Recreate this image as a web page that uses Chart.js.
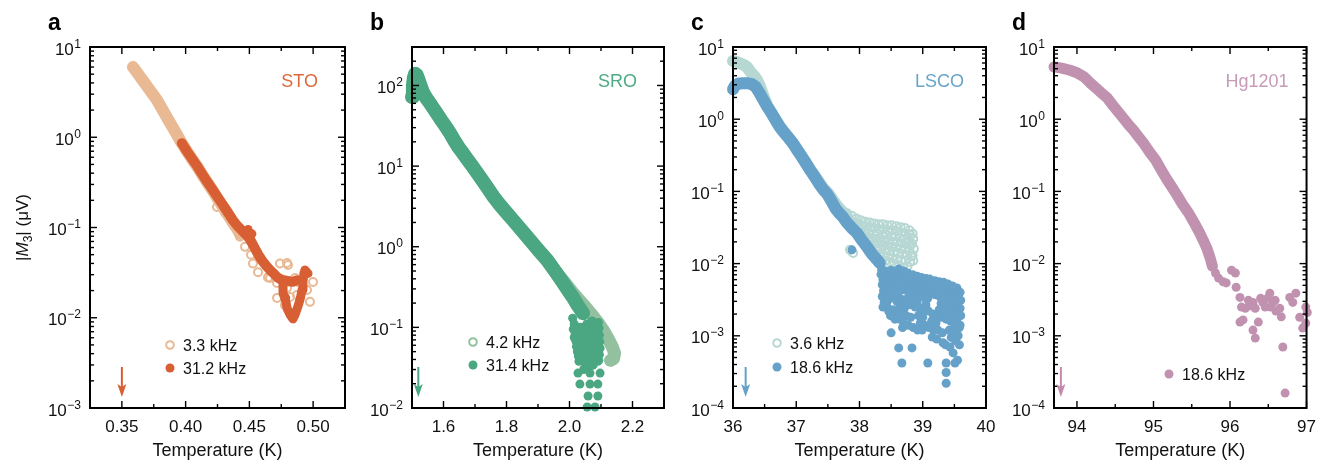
<!DOCTYPE html>
<html>
<head>
<meta charset="utf-8">
<script src="https://cdn.jsdelivr.net/npm/chart.js@4.4.0/dist/chart.umd.min.js"></script>
<style>
  body { margin: 0; background: #fff; width: 1325px; height: 462px; overflow: hidden; position: relative; }
  canvas { position: absolute; left: 0; top: 0; }
</style>
</head>
<body>
<canvas id="panelA" width="1325" height="462"></canvas>
<canvas id="panelB" width="1325" height="462"></canvas>
<canvas id="panelC" width="1325" height="462"></canvas>
<canvas id="panelD" width="1325" height="462"></canvas>
<script>
// ---- data: [temperature K, |M3| uV] ----

// a: STO
const stoTempTicks = [0.35, 0.40, 0.45, 0.50];
const stoMinorTicks = [0.375, 0.425, 0.475];
const stoLegend = ['3.3 kHz', '31.2 kHz'];
const stoLowBand = [[0.3587, 6.0], [0.362, 5.2], [0.366, 4.33], [0.370, 3.62], [0.374, 3.03], [0.3775, 2.59], [0.381, 2.12],
  [0.385, 1.69], [0.389, 1.35], [0.393, 1.08], [0.397, 0.86], [0.401, 0.70], [0.405, 0.575], [0.409, 0.475], [0.413, 0.385],
  [0.417, 0.315], [0.421, 0.26], [0.425, 0.21], [0.429, 0.172], [0.433, 0.14], [0.437, 0.114], [0.441, 0.094], [0.4426, 0.085]];
const stoLowDots = [[0.4246, 0.169], [0.431, 0.145], [0.4426, 0.079], [0.4466, 0.061], [0.4513, 0.050], [0.4528, 0.040],
  [0.4568, 0.032], [0.4646, 0.028], [0.4662, 0.0276], [0.4717, 0.0243], [0.4717, 0.0166], [0.4740, 0.040], [0.4764, 0.0263],
  [0.4779, 0.0138], [0.4795, 0.0404], [0.4795, 0.0214], [0.4803, 0.0384], [0.4819, 0.0170], [0.4858, 0.0276], [0.4874, 0.0179],
  [0.4897, 0.0243], [0.4952, 0.0203], [0.4975, 0.0150], [0.4999, 0.0249]];
const stoHighBand = [[0.397, 0.86], [0.401, 0.70], [0.405, 0.58], [0.409, 0.48], [0.413, 0.39], [0.417, 0.32], [0.421, 0.265],
  [0.425, 0.218], [0.429, 0.18], [0.433, 0.148], [0.437, 0.121], [0.441, 0.103], [0.445, 0.090], [0.448, 0.082], [0.451, 0.072],
  [0.454, 0.060], [0.457, 0.050], [0.460, 0.043], [0.463, 0.038], [0.466, 0.034], [0.469, 0.031], [0.472, 0.028], [0.476, 0.026],
  [0.480, 0.0255], [0.484, 0.025], [0.4875, 0.026]];
const stoHighTail = [[0.4764, 0.025], [0.4764, 0.0188], [0.4787, 0.0150], [0.4795, 0.0128], [0.4819, 0.0108], [0.4842, 0.0097],
  [0.4860, 0.0110], [0.4882, 0.0135], [0.4900, 0.0165], [0.4913, 0.0203], [0.4920, 0.025], [0.4928, 0.031], [0.4936, 0.0338],
  [0.4960, 0.031]];
const stoHighDots = [[0.449, 0.095], [0.452, 0.085], [0.4785, 0.0166]];

// b: SRO
const sroTempTicks = [1.6, 1.8, 2.0, 2.2];
const sroMinorTicks = [1.7, 1.9, 2.1];
const sroLegend = ['4.2 kHz', '31.4 kHz'];
const sroLowBand = [[1.5, 75], [1.51, 135], [1.535, 82], [1.579, 45], [1.621, 25.5], [1.662, 14.4], [1.694, 9.7], [1.738, 5.5],
  [1.779, 3.3], [1.821, 2.13], [1.875, 1.2], [1.929, 0.7], [1.96, 0.47], [1.99, 0.34], [2.01, 0.27], [2.03, 0.22], [2.05, 0.18],
  [2.07, 0.145], [2.09, 0.115], [2.105, 0.095], [2.118, 0.078], [2.128, 0.066], [2.137, 0.056], [2.143, 0.048], [2.14, 0.041],
  [2.13, 0.039]];
const sroHighBand = [[1.500, 72], [1.503, 100], [1.506, 125], [1.510, 140], [1.515, 135], [1.520, 120], [1.527, 100], [1.535, 82],
  [1.545, 70], [1.557, 60], [1.568, 52], [1.579, 45], [1.593, 37], [1.607, 31], [1.621, 25.5], [1.635, 20.5], [1.648, 17],
  [1.662, 14.4], [1.678, 11.8], [1.694, 9.7], [1.716, 7.3], [1.738, 5.5], [1.758, 4.2], [1.779, 3.3], [1.800, 2.65], [1.821, 2.13],
  [1.848, 1.6], [1.875, 1.2], [1.902, 0.9], [1.929, 0.68], [1.954, 0.50], [1.979, 0.36], [1.995, 0.29], [2.011, 0.235],
  [2.027, 0.185], [2.043, 0.15]];
const sroHighDots = [[2.010, 0.130], [2.015, 0.110], [2.012, 0.095], [2.018, 0.085], [2.015, 0.075], [2.020, 0.068], [2.022, 0.058],
  [2.025, 0.050], [2.028, 0.044], [2.030, 0.038], [2.035, 0.100], [2.038, 0.090], [2.040, 0.075], [2.042, 0.062], [2.045, 0.052],
  [2.048, 0.045], [2.050, 0.038], [2.052, 0.034], [2.055, 0.110], [2.058, 0.095], [2.060, 0.080], [2.062, 0.068], [2.064, 0.058],
  [2.066, 0.050], [2.068, 0.042], [2.070, 0.036], [2.072, 0.120], [2.075, 0.100], [2.078, 0.085], [2.080, 0.072], [2.082, 0.062],
  [2.085, 0.053], [2.088, 0.045], [2.090, 0.038], [2.092, 0.115], [2.094, 0.098], [2.095, 0.080], [2.096, 0.066], [2.097, 0.055],
  [2.095, 0.046], [2.093, 0.039], [2.075, 0.034], [2.060, 0.032], [2.045, 0.030],
  [2.027, 0.0271], [2.065, 0.0271], [2.097, 0.0271], [2.033, 0.0198], [2.065, 0.0198], [2.090, 0.0198], [2.059, 0.0141],
  [2.090, 0.0141], [2.056, 0.0103], [2.081, 0.0103]];

// c: LSCO
const lscoTempTicks = [36, 37, 38, 39, 40];
const lscoMinorTicks = [36.5, 37.5, 38.5, 39.5];
const lscoLegend = ['3.6 kHz', '18.6 kHz'];
const lscoLowBand = [[36.0, 6.4], [36.06, 6.2], [36.12, 5.9], [36.18, 5.6], [36.22, 5.3], [36.27, 4.6], [36.33, 4.0], [36.38, 3.5],
  [36.43, 2.8], [36.48, 2.1], [36.54, 1.55], [36.6, 1.25], [36.67, 1.0], [36.74, 0.8], [36.81, 0.66], [36.88, 0.55], [36.95, 0.46],
  [37.02, 0.37], [37.09, 0.3], [37.16, 0.245], [37.22, 0.2], [37.29, 0.165], [37.36, 0.135], [37.43, 0.11], [37.5, 0.095],
  [37.58, 0.076], [37.65, 0.062], [37.72, 0.053], [37.8, 0.047]];
const lscoLowDots = [[37.80, 0.050], [37.82, 0.043],
  [37.88, 0.046], [37.87, 0.039], [37.89, 0.034],
  [37.95, 0.042], [37.96, 0.036], [37.94, 0.031],
  [38.02, 0.040], [38.03, 0.034], [38.01, 0.029], [38.04, 0.025],
  [38.09, 0.038], [38.10, 0.033], [38.08, 0.028], [38.11, 0.024], [38.09, 0.021],
  [38.16, 0.037], [38.17, 0.032], [38.15, 0.027], [38.18, 0.023], [38.16, 0.020], [38.19, 0.017],
  [38.23, 0.036], [38.24, 0.031], [38.22, 0.026], [38.25, 0.022], [38.23, 0.019], [38.26, 0.016], [38.24, 0.014],
  [38.30, 0.035], [38.31, 0.030], [38.29, 0.026], [38.32, 0.022], [38.30, 0.019], [38.33, 0.016], [38.31, 0.0135], [38.28, 0.0122],
  [38.37, 0.035], [38.38, 0.030], [38.36, 0.025], [38.39, 0.021], [38.37, 0.018], [38.40, 0.0155], [38.38, 0.013], [38.41, 0.011],
  [38.44, 0.034], [38.45, 0.029], [38.43, 0.025], [38.46, 0.021], [38.44, 0.018], [38.47, 0.015], [38.45, 0.0125], [38.48, 0.0105],
  [38.51, 0.034], [38.52, 0.029], [38.50, 0.024], [38.53, 0.020], [38.51, 0.017], [38.54, 0.0145], [38.52, 0.012], [38.55, 0.0100],
  [38.58, 0.033], [38.59, 0.028], [38.57, 0.024], [38.60, 0.020], [38.58, 0.017], [38.61, 0.014], [38.59, 0.0115], [38.62, 0.0095],
  [38.65, 0.032], [38.66, 0.027], [38.64, 0.023], [38.67, 0.019], [38.65, 0.016], [38.68, 0.0135], [38.66, 0.011], [38.69, 0.0088],
  [38.72, 0.031], [38.73, 0.026], [38.71, 0.022], [38.74, 0.019], [38.72, 0.016], [38.75, 0.013], [38.73, 0.011], [38.76, 0.0092],
  [38.79, 0.029], [38.80, 0.025], [38.78, 0.021], [38.81, 0.018], [38.79, 0.015], [38.82, 0.0125], [38.80, 0.0105],
  [38.84, 0.026], [38.85, 0.022], [38.83, 0.019], [38.86, 0.016], [38.84, 0.013], [38.85, 0.011],
  [37.85, 0.0155], [37.90, 0.014]];
const lscoHighBand = [[36.00, 2.6], [36.03, 2.9], [36.08, 3.1], [36.15, 3.15], [36.22, 3.15], [36.30, 3.05], [36.36, 2.8],
  [36.42, 2.3], [36.48, 1.85], [36.54, 1.5], [36.60, 1.25], [36.67, 0.98], [36.74, 0.78], [36.81, 0.65], [36.88, 0.55],
  [36.95, 0.46], [37.02, 0.37], [37.09, 0.30], [37.16, 0.24], [37.22, 0.198], [37.29, 0.16], [37.36, 0.128], [37.43, 0.105],
  [37.49, 0.092], [37.55, 0.075], [37.62, 0.058], [37.68, 0.05], [37.74, 0.044], [37.80, 0.037], [37.88, 0.031], [37.96, 0.0265],
  [38.04, 0.021], [38.12, 0.017], [38.20, 0.0135], [38.26, 0.0118], [38.32, 0.0102]];
const lscoHighDots = [[37.88, 0.0155],
  [38.33, 0.0098], [38.35, 0.0083], [38.34, 0.0071], [38.37, 0.0060], [38.36, 0.0051], [38.38, 0.0042], [38.36, 0.0035], [38.39, 0.0029], [38.37, 0.0025],
  [38.41, 0.0079], [38.43, 0.0066], [38.42, 0.0054], [38.44, 0.0045], [38.41, 0.0038], [38.45, 0.0031], [38.43, 0.0026], [38.46, 0.0022], [38.50, 0.0011],
  [38.48, 0.0072], [38.50, 0.0081], [38.49, 0.0058], [38.51, 0.0049], [38.47, 0.0041], [38.52, 0.0034], [38.53, 0.0023], [38.49, 0.0019],
  [38.55, 0.0076], [38.57, 0.0063], [38.56, 0.0052], [38.58, 0.0044], [38.55, 0.0036], [38.59, 0.0030], [38.60, 0.0021], [38.56, 0.0017], [38.62, 0.00068],
  [38.62, 0.0084], [38.64, 0.0070], [38.63, 0.0057], [38.65, 0.0047], [38.61, 0.0039], [38.66, 0.0032], [38.64, 0.0026], [38.67, 0.0021], [38.63, 0.0017], [38.68, 0.0013], [38.67, 0.00042],
  [38.70, 0.0079], [38.71, 0.0064], [38.69, 0.0052], [38.72, 0.0043], [38.73, 0.0029], [38.71, 0.0024], [38.74, 0.0019], [38.70, 0.0015],
  [38.76, 0.0074], [38.78, 0.0061], [38.77, 0.0050], [38.79, 0.0040], [38.76, 0.0033], [38.80, 0.0027], [38.81, 0.0018], [38.77, 0.0014], [38.83, 0.00068],
  [38.84, 0.0070], [38.86, 0.0057], [38.85, 0.0046], [38.87, 0.0038], [38.84, 0.0031], [38.88, 0.0025], [38.85, 0.0013],
  [38.91, 0.0067], [38.93, 0.0054], [38.92, 0.0044], [38.94, 0.0036], [38.91, 0.0029], [38.95, 0.0024], [38.93, 0.0019], [38.96, 0.0015], [38.92, 0.0012],
  [38.98, 0.0064], [39.00, 0.0052], [38.99, 0.0042], [39.01, 0.0034], [39.02, 0.0023], [39.00, 0.0018], [39.03, 0.0014], [38.99, 0.0012],
  [39.05, 0.0062], [39.07, 0.0050], [39.06, 0.0040], [39.08, 0.0033], [39.05, 0.0027], [39.09, 0.0022], [39.10, 0.0013], [39.08, 0.00042],
  [39.11, 0.0061], [39.14, 0.0048], [39.13, 0.0039], [39.16, 0.0020], [39.14, 0.0016], [39.17, 0.0012], [39.15, 0.00096],
  [39.19, 0.0058], [39.21, 0.0046], [39.20, 0.0037], [39.23, 0.0019], [39.21, 0.0015], [39.24, 0.0012], [39.22, 0.00090],
  [39.26, 0.0056], [39.28, 0.0044], [39.27, 0.0035], [39.29, 0.0028], [39.26, 0.0023], [39.30, 0.0018], [39.31, 0.0011], [39.32, 0.00080],
  [39.33, 0.0055], [39.35, 0.0043], [39.34, 0.0034], [39.36, 0.0027], [39.33, 0.0021], [39.37, 0.0017], [39.36, 0.00075],
  [39.37, 0.00042], [39.37, 0.00031], [39.37, 0.00022],
  [39.40, 0.0052], [39.42, 0.0041], [39.41, 0.0032], [39.43, 0.0025], [39.40, 0.0020], [39.44, 0.0016], [39.42, 0.0012], [39.45, 0.00095], [39.43, 0.00070],
  [39.47, 0.0049], [39.49, 0.0039], [39.48, 0.0030], [39.50, 0.0023], [39.47, 0.0018], [39.51, 0.0014], [39.49, 0.0011], [39.52, 0.00085], [39.48, 0.00058], [39.51, 0.00042],
  [39.54, 0.0046], [39.56, 0.0037], [39.55, 0.0028], [39.57, 0.0022], [39.54, 0.0017], [39.58, 0.0013], [39.56, 0.0010], [39.58, 0.00075], [39.55, 0.00046],
  [39.59, 0.0040], [39.60, 0.0031], [39.59, 0.0024], [39.60, 0.0019], [39.59, 0.0014]];

// d: Hg1201
const hgTempTicks = [94, 95, 96, 97];
const hgMinorTicks = [94.5, 95.5, 96.5];
const hgLegend = ['18.6 kHz'];
const hgBand = [[93.70, 5.3], [93.80, 5.1], [93.90, 4.8], [94.00, 4.4], [94.10, 3.8], [94.17, 3.2], [94.25, 2.7], [94.32, 2.3],
  [94.39, 2.0], [94.46, 1.6], [94.53, 1.3], [94.60, 1.05], [94.67, 0.85], [94.74, 0.70], [94.81, 0.56], [94.88, 0.45],
  [94.95, 0.35], [95.03, 0.27], [95.10, 0.20], [95.17, 0.15], [95.24, 0.115], [95.31, 0.088], [95.38, 0.066], [95.46, 0.050],
  [95.53, 0.037], [95.60, 0.027], [95.65, 0.021], [95.70, 0.016], [95.74, 0.012], [95.77, 0.0092]];
const hgDots = [[95.81, 0.0074], [95.85, 0.0063], [95.91, 0.0056], [95.95, 0.0054], [96.02, 0.0081], [96.07, 0.0074],
  [96.08, 0.0047], [96.13, 0.0034], [96.13, 0.00155], [96.17, 0.00166], [96.15, 0.0025], [96.20, 0.0024], [96.24, 0.0031],
  [96.26, 0.0026], [96.30, 0.0029], [96.30, 0.0012], [96.33, 0.00093], [96.33, 0.0024], [96.37, 0.00155], [96.40, 0.0033],
  [96.43, 0.0029], [96.46, 0.0025], [96.49, 0.0033], [96.52, 0.0039], [96.53, 0.0025], [96.56, 0.0029], [96.59, 0.0031],
  [96.60, 0.0022], [96.65, 0.0024], [96.67, 0.00183], [96.69, 0.0007], [96.72, 0.000161], [96.78, 0.0034], [96.82, 0.0029],
  [96.86, 0.0039], [96.91, 0.0018], [96.95, 0.00128], [96.99, 0.0015], [97.01, 0.0021], [96.99, 0.0025]];

// arrows at the bottom of each panel (temperature)
const arrowTemps = [0.35, 1.52, 36.2, 93.79];

// ---- drawing ----
const W = 1325, H = 462;
const FONT = '"Liberation Sans", Arial, Helvetica, sans-serif';
const INK = '#111';
Chart.defaults.font.family = FONT;

function pts(arr) {
  return arr.map(p => ({ x: p[0], y: p[1] }));
}

function bandSet(data, color, width, order) {
  return {
    data: pts(data), showLine: true, borderColor: color, borderWidth: width, pointRadius: 0,
    borderCapStyle: 'round', borderJoinStyle: 'round', clip: false, order: order
  };
}

function dotSet(data, color, open, order) {
  return {
    data: pts(data), showLine: false, pointRadius: open ? 4 : 4.5, pointBorderWidth: open ? 2 : 0,
    pointBackgroundColor: open ? 'rgba(255,255,255,0)' : color, pointBorderColor: color, clip: false, order: order
  };
}

const panels = [
  {
    canvas: 'panelA', letter: 'a', left: 90, right: 345, xMin: 0.325, xMax: 0.525, digits: 2,
    xMajor: stoTempTicks, xMinor: stoMinorTicks, yMin: 1e-3, yMax: 10, yExp: [-3, -2, -1, 0, 1],
    name: 'STO', nameColor: '#dc693d', nameDx: 27, yTitle: true, arrow: arrowTemps[0], arrowColor: '#d75f33',
    legend: [
      { text: stoLegend[0], color: '#e9b994', open: true, dx: 80, y: 345 },
      { text: stoLegend[1], color: '#d75f33', open: false, dx: 80, y: 368 }
    ],
    datasets: [
      bandSet(stoLowBand, '#e9b994', 12, 4),
      dotSet(stoLowDots, '#e9b994', true, 3),
      bandSet(stoHighBand, '#d75f33', 10, 2),
      bandSet(stoHighTail, '#d75f33', 9, 1),
      dotSet(stoHighDots, '#d75f33', false, 1)
    ]
  },
  {
    canvas: 'panelB', letter: 'b', left: 412, right: 664, xMin: 1.5, xMax: 2.3, digits: 1,
    xMajor: sroTempTicks, xMinor: sroMinorTicks, yMin: 1e-2, yMax: 300, yExp: [-2, -1, 0, 1, 2],
    name: 'SRO', nameColor: '#4fab86', nameDx: 27, yTitle: false, arrow: arrowTemps[1], arrowColor: '#4aa781',
    legend: [
      { text: sroLegend[0], color: '#93c09e', open: true, dx: 61, y: 342 },
      { text: sroLegend[1], color: '#4aa781', open: false, dx: 61, y: 365 }
    ],
    datasets: [
      bandSet(sroLowBand, '#93c09e', 13, 3),
      bandSet(sroHighBand, '#4aa781', 14, 2),
      dotSet(sroHighDots, '#4aa781', false, 1)
    ]
  },
  {
    canvas: 'panelC', letter: 'c', left: 733, right: 986, xMin: 36, xMax: 40, digits: 0,
    xMajor: lscoTempTicks, xMinor: lscoMinorTicks, yMin: 1e-4, yMax: 10, yExp: [-4, -3, -2, -1, 0, 1],
    name: 'LSCO', nameColor: '#68a5cb', nameDx: 22, yTitle: false, arrow: arrowTemps[2], arrowColor: '#65a1c8',
    legend: [
      { text: lscoLegend[0], color: '#b7d7d3', open: true, dx: 44, y: 343 },
      { text: lscoLegend[1], color: '#65a1c8', open: false, dx: 44, y: 367 }
    ],
    datasets: [
      bandSet(lscoLowBand, '#b7d7d3', 12, 4),
      dotSet(lscoLowDots, '#b7d7d3', true, 3),
      bandSet(lscoHighBand, '#65a1c8', 12, 2),
      dotSet(lscoHighDots, '#65a1c8', false, 1)
    ]
  },
  {
    canvas: 'panelD', letter: 'd', left: 1054, right: 1309, xMin: 93.7, xMax: 97, digits: 0,
    xMajor: hgTempTicks, xMinor: hgMinorTicks, yMin: 1e-4, yMax: 10, yExp: [-4, -3, -2, -1, 0, 1],
    name: 'Hg1201', nameColor: '#c79bb8', nameDx: 18, yTitle: false, arrow: arrowTemps[3], arrowColor: '#c58aab',
    legend: [
      { text: hgLegend[0], color: '#c192b0', open: false, dx: 115, y: 374 }
    ],
    datasets: [
      bandSet(hgBand, '#c192b0', 11, 2),
      dotSet(hgDots, '#c192b0', false, 1)
    ]
  }
];

// frame, inward ticks, y labels, legend and annotations
function makeDecor(p) {
  return {
    id: 'decor',
    afterDatasetsDraw(chart) {
      const { ctx, chartArea: a } = chart;
      const xs = chart.scales.x, ys = chart.scales.y;
      ctx.save();
      ctx.strokeStyle = '#000';
      ctx.lineWidth = 1.4;
      const seg = (x1, y1, x2, y2) => { ctx.beginPath(); ctx.moveTo(x1, y1); ctx.lineTo(x2, y2); ctx.stroke(); };
      const xTick = (v, len) => {
        const px = xs.getPixelForValue(v);
        seg(px, a.bottom, px, a.bottom - len);
        seg(px, a.top, px, a.top + len);
      };
      const yTick = (v, len) => {
        const py = ys.getPixelForValue(v);
        seg(a.left, py, a.left + len, py);
        seg(a.right, py, a.right - len, py);
      };
      p.xMajor.forEach(v => xTick(v, 7));
      p.xMinor.forEach(v => xTick(v, 4));
      for (let e = Math.floor(Math.log10(p.yMin)); e <= Math.log10(p.yMax); e++) {
        for (let m = 1; m <= 9; m++) {
          const v = m * Math.pow(10, e);
          if (v < p.yMin * 0.999 || v > p.yMax * 1.001) continue;
          yTick(v, m === 1 ? 7 : 4);
        }
      }
      ctx.lineWidth = 2;
      ctx.strokeRect(a.left, a.top, a.right - a.left, a.bottom - a.top);

      // y tick labels 10^n
      ctx.fillStyle = INK;
      ctx.textAlign = 'right';
      ctx.textBaseline = 'alphabetic';
      p.yExp.forEach(e => {
        const py = ys.getPixelForValue(Math.pow(10, e));
        const exp = e < 0 ? '\u2212' + (-e) : String(e);
        const xr = a.left - 9;
        ctx.font = '12px ' + FONT;
        const ew = ctx.measureText(exp).width;
        ctx.fillText(exp, xr, py + 0.5);
        ctx.font = '17px ' + FONT;
        ctx.fillText('10', xr - ew - 0.5, py + 7.5);
      });

      // panel letter
      ctx.textAlign = 'left';
      ctx.font = 'bold 23px ' + FONT;
      ctx.fillStyle = '#000';
      ctx.fillText(p.letter, a.left - 42, 30);

      // sample name
      ctx.textAlign = 'right';
      ctx.font = '18px ' + FONT;
      ctx.fillStyle = p.nameColor;
      ctx.fillText(p.name, a.right - p.nameDx, 87);

      // legend
      p.legend.forEach(l => {
        const lx = a.left + l.dx;
        ctx.beginPath();
        if (l.open) {
          ctx.arc(lx, l.y, 3.8, 0, Math.PI * 2);
          ctx.lineWidth = 2;
          ctx.strokeStyle = l.color;
          ctx.stroke();
        } else {
          ctx.arc(lx, l.y, 4.5, 0, Math.PI * 2);
          ctx.fillStyle = l.color;
          ctx.fill();
        }
        ctx.textAlign = 'left';
        ctx.font = '16px ' + FONT;
        ctx.fillStyle = INK;
        ctx.fillText(l.text, lx + 13, l.y + 6);
      });

      // arrow
      const ax = xs.getPixelForValue(p.arrow);
      ctx.strokeStyle = p.arrowColor;
      ctx.fillStyle = p.arrowColor;
      ctx.lineWidth = 2;
      seg(ax, a.bottom - 41, ax, a.bottom - 20);
      ctx.beginPath();
      ctx.moveTo(ax, a.bottom - 11);
      ctx.lineTo(ax - 4.5, a.bottom - 24);
      ctx.lineTo(ax, a.bottom - 21);
      ctx.lineTo(ax + 4.5, a.bottom - 24);
      ctx.closePath();
      ctx.fill();

      // y axis title |M3| (uV)
      if (p.yTitle) {
        ctx.save();
        ctx.translate(22, (a.top + a.bottom) / 2);
        ctx.rotate(-Math.PI / 2);
        ctx.fillStyle = INK;
        ctx.textAlign = 'left';
        const parts = [
          { t: '|', f: '17px ' + FONT, dy: 0 },
          { t: 'M', f: 'italic 17px ' + FONT, dy: 0 },
          { t: '3', f: '12px ' + FONT, dy: 4 },
          { t: '| (\u03BCV)', f: '17px ' + FONT, dy: 0 }
        ];
        let total = 0;
        parts.forEach(pt => { ctx.font = pt.f; pt.w = ctx.measureText(pt.t).width; total += pt.w; });
        let cx = -total / 2;
        parts.forEach(pt => { ctx.font = pt.f; ctx.fillText(pt.t, cx, 6 + pt.dy); cx += pt.w; });
        ctx.restore();
      }
      ctx.restore();
    }
  };
}

panels.forEach(p => {
  new Chart(document.getElementById(p.canvas), {
    type: 'scatter',
    data: { datasets: p.datasets },
    options: {
      responsive: false,
      animation: false,
      events: [],
      layout: { padding: { left: p.left, right: W - p.right, top: 47, bottom: 0 } },
      plugins: { legend: { display: false }, tooltip: { enabled: false } },
      scales: {
        x: {
          type: 'linear', min: p.xMin, max: p.xMax,
          afterBuildTicks: s => { s.ticks = p.xMajor.map(v => ({ value: v })); },
          afterFit: s => { s.height = H - 408; },
          grid: { display: false, drawTicks: false },
          border: { display: false },
          ticks: {
            padding: 9, color: INK, maxRotation: 0, autoSkip: false,
            font: { size: 17 },
            callback: v => Number(v).toFixed(p.digits)
          },
          title: { display: true, text: 'Temperature (K)', color: INK, font: { size: 18 }, padding: { top: 0, bottom: 0 } }
        },
        y: { type: 'logarithmic', min: p.yMin, max: p.yMax, display: false }
      }
    },
    plugins: [makeDecor(p)]
  });
});
</script>
</body>
</html>
